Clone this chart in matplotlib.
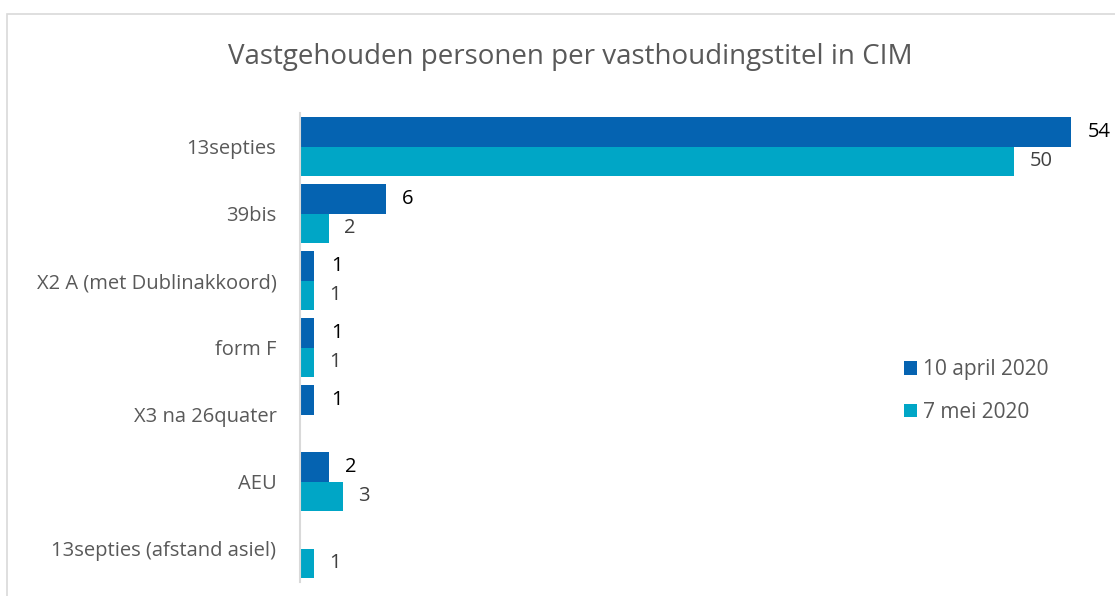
import matplotlib.pyplot as plt
import numpy as np
from matplotlib.patches import Rectangle

plt.rcParams['font.family'] = ['Open Sans', 'DejaVu Sans']

categories = ['13septies', '39bis', 'X2 A (met Dublinakkoord)', 'form F',
              'X3 na 26quater', 'AEU', '13septies (afstand asiel)']
april = [54, 6, 1, 1, 1, 2, 0]
mei = [50, 2, 1, 1, 0, 3, 1]
series_names = ['10 april 2020', '7 mei 2020']

c_april = '#0563B1'
c_mei = '#00A6C6'

fig = plt.figure(figsize=(11.15, 5.96), dpi=100)
# outer chart frame (only left and top edges are inside the picture)
fig.patches.append(Rectangle((7 / 1115, -0.2), 1.2, 1.2 - 14 / 596, transform=fig.transFigure,
                             fill=False, edgecolor='#d9d9d9', linewidth=1.2))

ax = fig.add_axes([300 / 1115, 14 / 596, 814 / 1115, 469 / 596])
y = np.arange(len(categories))
h = 0.435
b1 = ax.barh(y - h / 2, april, h, color=c_april, label=series_names[0])
b2 = ax.barh(y + h / 2, mei, h, color=c_mei, label=series_names[1])
ax.set_ylim(len(categories) - 0.5, -0.5)
ax.set_xlim(0, 57)

ax.set_yticks(y, categories)
ax.tick_params(axis='y', length=0, pad=17, labelsize=14.5, labelcolor='#595959')
ax.tick_params(axis='x', bottom=False, labelbottom=False)
for s in ['top', 'right', 'bottom']:
    ax.spines[s].set_visible(False)
ax.spines['left'].set_color('#d9d9d9')
ax.spines['left'].set_linewidth(1.5)

for bar, v in zip(b1, april):
    if v:
        ax.annotate(str(v), (v, bar.get_y() + bar.get_height() / 2), xytext=(12, 0),
                    textcoords='offset points', va='center', ha='left',
                    fontsize=14.5, color='#000000')
for bar, v in zip(b2, mei):
    if v:
        ax.annotate(str(v), (v, bar.get_y() + bar.get_height() / 2), xytext=(11, 0),
                    textcoords='offset points', va='center', ha='left',
                    fontsize=14.5, color='#404040')

fig.text(570 / 1115, 1 - 57 / 596, 'Vastgehouden personen per vasthoudingstitel in CIM',
         ha='center', va='center', fontsize=20, color='#595959')

leg = ax.legend(loc='upper left', bbox_to_anchor=(896 / 1115, 1 - 351 / 596),
                bbox_transform=fig.transFigure, frameon=False, fontsize=15,
                handlelength=0.6, handleheight=0.6, handletextpad=0.3,
                labelspacing=1.05, borderaxespad=0)
for t in leg.get_texts():
    t.set_color('#595959')

fig.savefig('out.png', dpi=100)
